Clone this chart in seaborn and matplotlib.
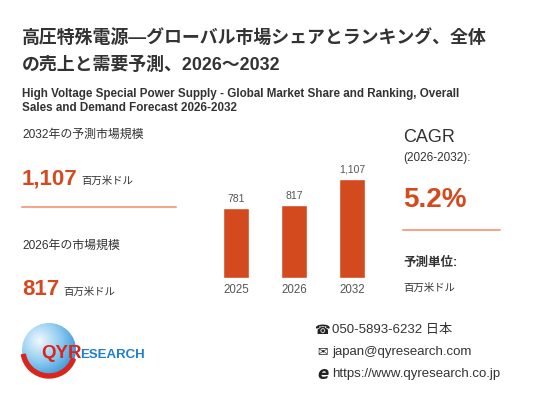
import numpy as np
import pandas as pd
import seaborn as sns
import matplotlib
import matplotlib.pyplot as plt
from matplotlib.patches import Circle, Wedge
matplotlib.use('Agg')

# chart values
years = ['2025', '2026', '2032']
market_size = [781, 817, 1107]
value_labels = ['781', '817', '1,107']

title_jp = ['高圧特殊電源—グローバル市場シェアとランキング、全体',
            'の売上と需要予測、2026～2032']
title_en = ['High Voltage Special Power Supply - Global Market Share and Ranking, Overall',
            'Sales and Demand Forecast 2026-2032']
size_2032 = '1,107'
size_2026 = '817'
cagr = '5.2%'
unit = '百万米ドル'
contacts = ['050-5893-6232 日本', 'japan@qyresearch.com', 'https://www.qyresearch.co.jp']

RED = '#D44A1F'
LINE = '#EFA88F'
DARK = '#333333'
GREY = '#555555'

sns.set_theme(style='white')
plt.rcParams['font.family'] = ['Liberation Sans', 'Noto Sans CJK JP', 'DejaVu Sans']

W, H = 533, 400
fig = plt.figure(figsize=(W / 100, H / 100), dpi=100)
fig.patch.set_facecolor('white')


def px(x, y):
    return x / W, 1 - y / H


def txt(x, y, s, **kw):
    kw.setdefault('va', 'center')
    kw.setdefault('ha', 'left')
    kw.setdefault('color', DARK)
    fig.text(*px(x, y), s, **kw)


# titles
txt(22, 38, title_jp[0], fontsize=12.9, fontweight='bold')
txt(22, 65, title_jp[1], fontsize=12.9, fontweight='bold')
txt(22, 94, title_en[0], fontsize=8.4, fontweight='bold')
txt(22, 108, title_en[1], fontsize=8.4, fontweight='bold')

# left panel
txt(22, 135, '2032年の予測市場規模', fontsize=8.6, color=DARK)
txt(22, 184, size_2032, fontsize=16, fontweight='bold', color=RED, va='baseline')
txt(81, 184, unit, fontsize=7.5, color=DARK, va='baseline')
fig.add_artist(plt.Line2D([22 / W, 176 / W], [1 - 207 / H] * 2, color=LINE, lw=1.5))
txt(22, 246, '2026年の市場規模', fontsize=8.6, color=DARK)
txt(22, 295, size_2026, fontsize=16, fontweight='bold', color=RED, va='baseline')
txt(63, 295, unit, fontsize=7.5, color=DARK, va='baseline')

# right panel
txt(403, 137, 'CAGR', fontsize=13, color=DARK)
txt(403, 158, '(2026-2032):', fontsize=8.5, color=DARK)
txt(403, 207, cagr, fontsize=20, fontweight='bold', color=RED, va='baseline')
fig.add_artist(plt.Line2D([403 / W, 500 / W], [1 - 230 / H] * 2, color=LINE, lw=1.5))
txt(403, 263, '予測単位:', fontsize=9, fontweight='bold', color=DARK)
txt(403, 288, unit, fontsize=7.5, color=DARK)

# bar chart
df = pd.DataFrame({'year': years, 'size': market_size})
step = 58
left = 236 - 0.6 * step
ax = fig.add_axes([left / W, (H - 278) / H, 3.2 * step / W, 130 / H])
sns.barplot(data=df, x='year', y='size', color=RED, width=0.45, ax=ax,
            saturation=1)
ax.set_xlim(-0.6, 2.6)
ax.set_ylim(0, 1107 / 99 * 130)
ax.bar_label(ax.containers[0], labels=value_labels, padding=3,
             fontsize=7.5, color=GREY)
ax.set_xlabel('')
ax.set_ylabel('')
ax.set_yticks([])
ax.tick_params(axis='x', length=0, pad=4, labelsize=8.3, labelcolor=GREY)
for sp in ax.spines.values():
    sp.set_visible(False)
ax.patch.set_alpha(0)

# contacts
icons = ['☎', '✉', 'e']
for i, (ic, c) in enumerate(zip(icons, contacts)):
    y = 330 + i * 22
    if ic == 'e':
        txt(323, y, ic, fontsize=12, fontweight='bold', style='italic',
            family='DejaVu Sans', color='#222222', ha='center')
    else:
        txt(322, y, ic, fontsize=9, family='DejaVu Sans', color='#222222',
            ha='center')
    txt(332, y, c, fontsize=9.5, color=DARK)

# logo
lax = fig.add_axes([0, 0, 1, 1], zorder=-1)
lax.set_xlim(0, W)
lax.set_ylim(H, 0)
lax.axis('off')
cx, cy, r = 49, 350, 27
gx, gy = np.meshgrid(np.linspace(-1, 1, 80), np.linspace(-1, 1, 80))
grad = np.sqrt((gx + 0.35) ** 2 + (gy + 0.35) ** 2)
img = lax.imshow(grad, cmap=matplotlib.colors.LinearSegmentedColormap.from_list(
    'globe', ['#F2F9FE', '#8CCBF0', '#2A8AD4']),
    extent=[cx - r, cx + r, cy + r, cy - r], vmin=0, vmax=1.6)
clip = Circle((cx, cy), r, transform=lax.transData)
img.set_clip_path(clip)
lax.add_patch(Wedge((cx, cy), r + 1, 20, 170, width=4, color='#D9261C'))
lax.set_aspect('auto')
lax.text(41, 353, 'QYR', fontsize=13.5, fontweight='bold', color='#D9261C',
         va='center', ha='left')
lax.text(80, 355, 'ESEARCH', fontsize=9.5, fontweight='bold', color='#1E7FCB',
         va='center', ha='left')

fig.savefig('out.png', dpi=100)
